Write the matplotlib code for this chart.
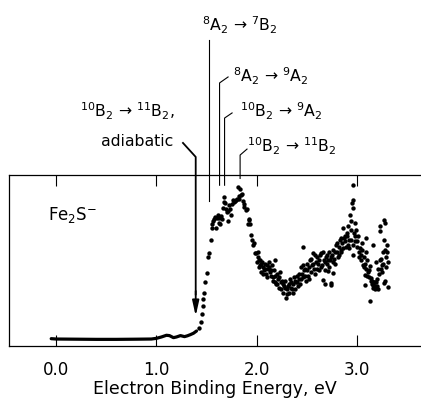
import numpy as np
import matplotlib
matplotlib.use('Agg')
import matplotlib.pyplot as plt

plt.rcParams['font.family'] = ['DejaVu Sans']
plt.rcParams['mathtext.default'] = 'regular'

# baseline below threshold (drawn as a thick trace)
base_e = [-0.05, 0.0, 0.2, 0.4, 0.6, 0.8, 0.95, 1.0, 1.05, 1.10, 1.13,
          1.17, 1.20, 1.24, 1.28, 1.31, 1.34, 1.37, 1.40]
base_v = [0.040, 0.038, 0.037, 0.036, 0.036, 0.037, 0.038, 0.042, 0.050, 0.060, 0.058,
          0.046, 0.050, 0.058, 0.052, 0.057, 0.064, 0.072, 0.085]

# rise and first band
rise_e = [1.42, 1.44, 1.45, 1.46, 1.465, 1.475, 1.485, 1.50, 1.515, 1.525, 1.54, 1.55,
          1.555, 1.565, 1.575, 1.585, 1.59, 1.60, 1.61, 1.62, 1.625, 1.635, 1.64, 1.65,
          1.66, 1.67, 1.675, 1.685, 1.69, 1.70, 1.71, 1.715, 1.725, 1.73, 1.74, 1.75,
          1.76, 1.77, 1.78, 1.79, 1.80, 1.81, 1.82, 1.825, 1.835, 1.84, 1.85, 1.86,
          1.87, 1.875, 1.89, 1.90, 1.91, 1.92, 1.925, 1.935, 1.94, 1.95, 1.96, 1.97,
          1.98, 1.99, 2.00]
rise_v = [0.10, 0.14, 0.185, 0.23, 0.27, 0.31, 0.37, 0.425, 0.52, 0.54, 0.62, 0.71,
          0.69, 0.73, 0.74, 0.755, 0.69, 0.745, 0.765, 0.745, 0.72, 0.71, 0.76, 0.74,
          0.805, 0.87, 0.84, 0.835, 0.80, 0.785, 0.73, 0.79, 0.825, 0.80, 0.765, 0.83,
          0.855, 0.84, 0.85, 0.855, 0.86, 0.93, 0.875, 0.86, 0.92, 0.88, 0.89, 0.845,
          0.83, 0.815, 0.795, 0.80, 0.71, 0.735, 0.74, 0.71, 0.65, 0.62, 0.59, 0.60,
          0.545, 0.54, 0.49]

# higher-energy region
high_e = [2.01, 2.02, 2.03, 2.03, 2.04, 2.05, 2.06, 2.07, 2.08, 2.09, 2.10, 2.11, 2.12,
          2.13, 2.14, 2.15, 2.16, 2.17, 2.18, 2.18, 2.19, 2.20, 2.21, 2.22, 2.23, 2.24,
          2.25, 2.26, 2.27, 2.28, 2.29, 2.30, 2.31, 2.32, 2.33, 2.34, 2.35, 2.36, 2.37,
          2.38, 2.39, 2.40, 2.41, 2.42, 2.43, 2.44, 2.45, 2.46, 2.46, 2.47, 2.48, 2.49,
          2.50, 2.51, 2.52, 2.53, 2.54, 2.55, 2.56, 2.57, 2.58, 2.59, 2.60, 2.61, 2.62,
          2.63, 2.64, 2.65, 2.66, 2.67, 2.68, 2.68, 2.69, 2.70, 2.71, 2.71, 2.72, 2.73,
          2.74, 2.745, 2.75, 2.76, 2.76, 2.77, 2.78, 2.79, 2.80, 2.81, 2.82, 2.83, 2.84,
          2.845, 2.85, 2.86, 2.87, 2.88, 2.89, 2.90, 2.91, 2.91, 2.92, 2.93, 2.94, 2.945,
          2.95, 2.96, 2.96, 2.96, 2.96, 2.97, 2.98, 2.98, 2.995, 3.00, 3.01, 3.02, 3.03,
          3.04, 3.045, 3.05, 3.06, 3.07, 3.08, 3.08, 3.08, 3.09, 3.095, 3.095, 3.10, 3.11,
          3.12, 3.13, 3.13, 3.14, 3.145, 3.15, 3.16, 3.16, 3.17, 3.18, 3.19, 3.20, 3.21,
          3.22, 3.23, 3.23, 3.24, 3.245, 3.25, 3.26, 3.27, 3.27, 3.27, 3.28, 3.28, 3.29,
          3.30, 3.31, 3.31]
high_v = [0.52, 0.50, 0.47, 0.50, 0.43, 0.49, 0.46, 0.44, 0.48, 0.42, 0.47, 0.45, 0.49,
          0.43, 0.41, 0.47, 0.40, 0.44, 0.50, 0.37, 0.36, 0.42, 0.39, 0.34, 0.43, 0.33,
          0.38, 0.36, 0.35, 0.38, 0.28, 0.33, 0.35, 0.31, 0.39, 0.37, 0.33, 0.36, 0.40,
          0.33, 0.37, 0.41, 0.35, 0.39, 0.36, 0.46, 0.42, 0.58, 0.40, 0.44, 0.45, 0.38,
          0.48, 0.41, 0.46, 0.50, 0.43, 0.47, 0.54, 0.45, 0.42, 0.49, 0.52, 0.48, 0.44,
          0.53, 0.54, 0.47, 0.385, 0.50, 0.445, 0.36, 0.52, 0.48, 0.50, 0.435, 0.55, 0.50,
          0.365, 0.355, 0.53, 0.56, 0.425, 0.51, 0.48, 0.59, 0.55, 0.52, 0.58, 0.62, 0.56,
          0.55, 0.60, 0.69, 0.63, 0.64, 0.58, 0.66, 0.70, 0.59, 0.62, 0.765, 0.68, 0.73,
          0.835, 0.94, 0.855, 0.805, 0.53, 0.66, 0.72, 0.61, 0.68, 0.58, 0.64, 0.55, 0.57,
          0.50, 0.53, 0.60, 0.47, 0.52, 0.48, 0.415, 0.355, 0.45, 0.63, 0.55, 0.50, 0.43,
          0.40, 0.465, 0.26, 0.38, 0.395, 0.36, 0.59, 0.355, 0.37, 0.375, 0.49, 0.35, 0.33,
          0.42, 0.67, 0.70, 0.45, 0.51, 0.47, 0.55, 0.62, 0.735, 0.365, 0.72, 0.56, 0.52,
          0.59, 0.49, 0.345]

# second scan of the same region (fills the band)
fill_e = [2.015, 2.025, 2.045, 2.065, 2.085, 2.105, 2.125, 2.145, 2.165, 2.185, 2.205,
          2.225, 2.245, 2.265, 2.285, 2.305, 2.325, 2.345, 2.365, 2.385, 2.405, 2.425,
          2.445, 2.465, 2.485, 2.505, 2.525, 2.545, 2.565, 2.585, 2.605, 2.625, 2.645,
          2.665, 2.685, 2.705, 2.725, 2.745, 2.765, 2.785, 2.805, 2.825, 2.845, 2.865,
          2.885, 2.905, 2.925, 2.945, 2.965, 2.985, 3.005, 3.025, 3.055, 3.075, 3.105,
          3.125, 3.155, 3.165, 3.175, 3.185, 3.195, 3.205, 3.215, 3.235, 3.255, 3.265,
          3.285, 3.295, 3.305]
fill_v = [0.55, 0.46, 0.48, 0.42, 0.45, 0.40, 0.46, 0.44, 0.38, 0.41, 0.36, 0.40, 0.37,
          0.31, 0.34, 0.30, 0.36, 0.34, 0.31, 0.38, 0.37, 0.42, 0.39, 0.47, 0.41, 0.44,
          0.39, 0.51, 0.48, 0.53, 0.45, 0.50, 0.46, 0.55, 0.49, 0.53, 0.46, 0.52, 0.49,
          0.55, 0.60, 0.53, 0.63, 0.57, 0.61, 0.64, 0.57, 0.62, 0.59, 0.64, 0.61, 0.52,
          0.56, 0.46, 0.41, 0.44, 0.38, 0.34, 0.35, 0.33, 0.37, 0.39, 0.45, 0.50, 0.43,
          0.48, 0.38, 0.46, 0.55]

fig = plt.figure(figsize=(4.21, 4.00), dpi=100)
ax = fig.add_axes([9 / 421, 54.5 / 400, 412 / 421, 170.5 / 400])

ax.plot(base_e, base_v, color='black', lw=2.3, solid_capstyle='round')
ax.scatter(rise_e + high_e + fill_e, rise_v + high_v + fill_v, s=10, color='black',
           linewidths=0)

ax.set_xlim(-0.471, 3.64)
ax.set_ylim(0, 1)
ax.set_xticks([0, 1, 2, 3])
ax.set_xticklabels(['0.0', '1.0', '2.0', '3.0'])
ax.set_yticks([])
ax.tick_params(axis='x', direction='in', length=8, width=0.8, top=True, pad=11,
               labelsize=12)
ax.spines['right'].set_visible(False)
for s in ['top', 'bottom', 'left']:
    ax.spines[s].set_linewidth(0.9)
ax.set_xlabel('Electron Binding Energy, eV', fontsize=12.5, labelpad=1)

ax.text(-0.08, 0.736, r'Fe$_2$S$^{-}$', fontsize=12)

# assignment markers
lk = dict(color='black', lw=0.8, clip_on=False)
ax.plot([1.525, 1.525], [0.85, 1.79], **lk)
ax.plot([1.63, 1.63, 1.715], [0.94, 1.54, 1.575], **lk)
ax.plot([1.68, 1.68, 1.755], [0.94, 1.334, 1.364], **lk)
ax.plot([1.835, 1.835, 1.904], [0.98, 1.117, 1.152], **lk)
ax.plot([1.265, 1.392, 1.392], [1.188, 1.106, 0.30], color='black', lw=1.3,
        clip_on=False)
ax.annotate('', xy=(1.392, 0.173), xytext=(1.392, 0.32),
            arrowprops=dict(arrowstyle='-|>,head_length=0.9,head_width=0.2',
                            color='black', lw=1.3, shrinkA=0, shrinkB=0))

tk = dict(fontsize=11.3, va='baseline')
ax.text(1.455, 1.84, r'$^8$A$_2$ → $^7$B$_2$', ha='left', **tk)
ax.text(1.764, 1.545, r'$^8$A$_2$ → $^9$A$_2$', ha='left', **tk)
ax.text(1.834, 1.34, r'$^{10}$B$_2$ → $^9$A$_2$', ha='left', **tk)
ax.text(1.904, 1.135, r'$^{10}$B$_2$ → $^{11}$B$_2$', ha='left', **tk)
ax.text(0.238, 1.34, r'$^{10}$B$_2$ → $^{11}$B$_2$,', ha='left', **tk)
ax.text(1.166, 1.17, 'adiabatic', ha='right', **tk)

fig.savefig('out.png', dpi=100)
